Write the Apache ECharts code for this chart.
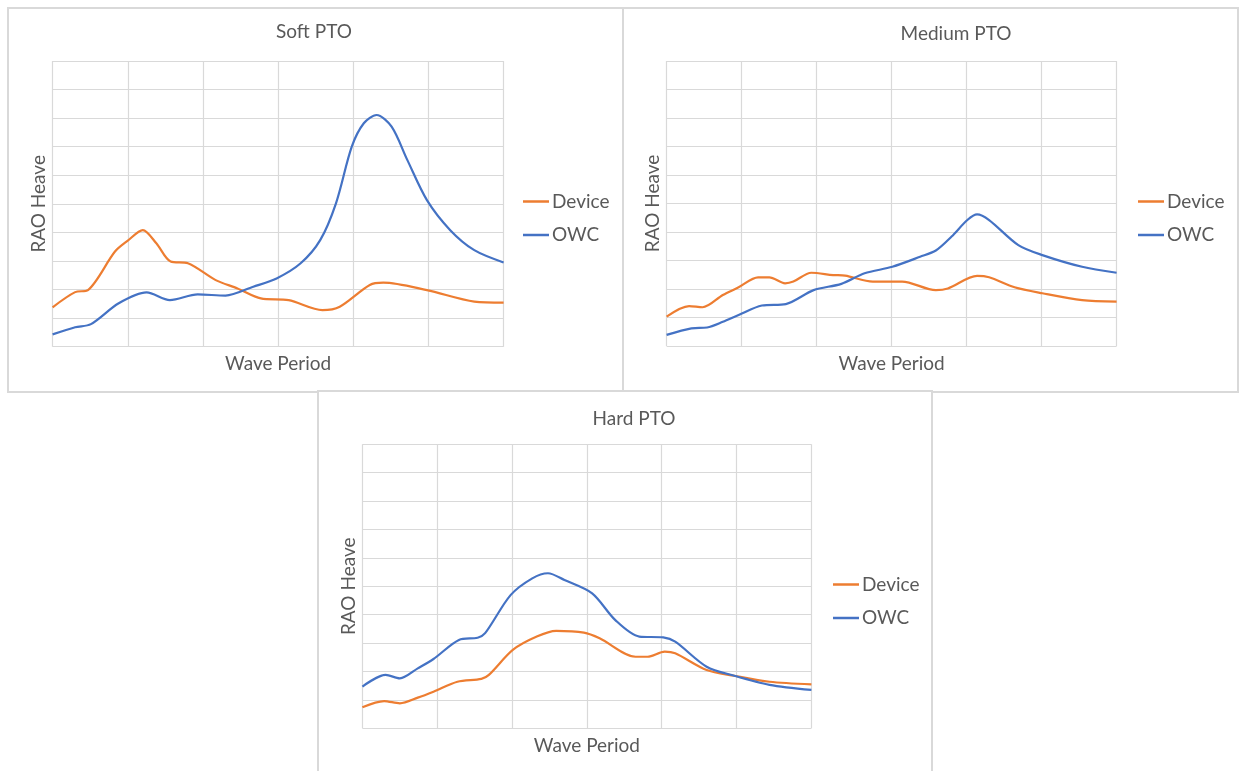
<!DOCTYPE html>
<html>
<head>
<meta charset="utf-8">
<script src="https://cdn.jsdelivr.net/npm/echarts@6/dist/echarts.min.js"></script>
<style>
  body { margin: 0; background: #fff; width: 1239px; height: 771px; overflow: hidden; position: relative; }
  .box { position: absolute; border: 2px solid #d9d9d9; box-sizing: border-box; background: #fff; }
</style>
</head>
<body>
<div id="soft" class="box" style="left:7px;top:7px;width:617px;height:386px"></div>
<div id="medium" class="box" style="left:622px;top:7px;width:617px;height:386px"></div>
<div id="hard" class="box" style="left:317px;top:390px;width:616px;height:390px"></div>
<script>
// values, [wave period (grid units), RAO heave (grid units)]
const softDevice = [[0,1.38],[0.3,1.91],[0.47,1.98],[0.83,3.33],[1.0,3.71],[1.2,4.08],[1.38,3.62],[1.57,2.98],
  [1.8,2.92],[2.17,2.33],[2.46,2.04],[2.77,1.69],[3.14,1.63],[3.59,1.28],[3.82,1.40],[4.22,2.16],[4.4,2.24],
  [4.98,1.98],[5.61,1.58],[6,1.54]];
const softOwc = [[0,0.43],[0.3,0.68],[0.51,0.79],[0.88,1.52],[1.25,1.9],[1.56,1.63],[1.93,1.83],[2.3,1.79],
  [2.67,2.1],[2.98,2.39],[3.3,2.92],[3.56,3.73],[3.77,5.02],[3.98,7.0],[4.14,7.82],[4.31,8.11],[4.51,7.7],
  [4.72,6.53],[4.98,5.13],[5.29,4.08],[5.61,3.38],[6,2.95]];

const mediumDevice = [[0,1.03],[0.3,1.40],[0.48,1.36],[0.75,1.79],[0.96,2.06],[1.22,2.41],[1.37,2.41],[1.58,2.2],
  [1.69,2.26],[1.93,2.57],[2.22,2.49],[2.38,2.47],[2.75,2.26],[3.14,2.26],[3.59,1.96],[3.75,2.02],[4.14,2.46],
  [4.3,2.41],[4.64,2.06],[5.01,1.85],[5.54,1.61],[6,1.56]];
const mediumOwc = [[0,0.39],[0.33,0.62],[0.54,0.65],[0.75,0.85],[0.96,1.09],[1.27,1.42],[1.59,1.47],[1.96,1.96],
  [2.33,2.18],[2.64,2.55],[3.01,2.78],[3.38,3.13],[3.59,3.35],[3.8,3.84],[4.01,4.42],[4.14,4.62],[4.3,4.42],
  [4.69,3.54],[5.01,3.19],[5.54,2.78],[6,2.57]];

const hardDevice = [[0,0.74],[0.29,0.96],[0.5,0.88],[0.74,1.08],[0.95,1.29],[1.27,1.64],[1.59,1.74],[1.69,1.88],
  [2.01,2.76],[2.33,3.23],[2.59,3.43],[2.96,3.37],[3.17,3.17],[3.65,2.52],[3.81,2.52],[4.04,2.7],[4.18,2.64],
  [4.6,2.05],[4.97,1.85],[5.44,1.64],[6,1.55]];
const hardOwc = [[0,1.47],[0.31,1.88],[0.5,1.76],[0.74,2.11],[0.95,2.44],[1.29,3.11],[1.54,3.19],[1.64,3.35],
  [1.98,4.69],[2.27,5.28],[2.48,5.46],[2.7,5.22],[3.07,4.75],[3.38,3.81],[3.7,3.23],[4.02,3.2],[4.18,3.05],
  [4.6,2.17],[4.97,1.85],[5.44,1.53],[6,1.35]];

const seriesNames = ['Device', 'OWC'];
const colors = ['#ED7D31', '#4472C4'];
const textColor = '#595959';
const font = 'Lato, "Open Sans", sans-serif';

function makeChart(id, title, titlePos, grid, device, owc) {
  const chart = echarts.init(document.getElementById(id));
  chart.setOption({
    animation: false,
    color: colors,
    textStyle: { fontFamily: font },
    title: {
      text: title,
      left: titlePos[0],
      top: titlePos[1],
      textAlign: 'center',
      padding: 0,
      textStyle: { color: textColor, fontSize: 19, fontWeight: 'normal', fontFamily: font }
    },
    legend: {
      orient: 'vertical',
      left: 514,
      top: 183,
      icon: 'rect',
      itemWidth: 26,
      itemHeight: 2.5,
      itemGap: 14.5,
      padding: 0,
      data: seriesNames,
      textStyle: { color: textColor, fontSize: 19, fontFamily: font, padding: [0, 0, 0, -2] }
    },
    grid: grid,
    xAxis: {
      type: 'value',
      min: 0,
      max: 6,
      interval: 1,
      name: 'Wave Period',
      nameLocation: 'middle',
      nameGap: 8,
      nameTextStyle: { color: textColor, fontSize: 19, fontFamily: font },
      axisLine: { show: false },
      axisTick: { show: false },
      axisLabel: { show: false },
      splitLine: { show: true, lineStyle: { color: '#d9d9d9', width: 1.2 } }
    },
    yAxis: {
      type: 'value',
      min: 0,
      max: 10,
      interval: 1,
      name: 'RAO Heave',
      nameLocation: 'middle',
      nameGap: 4,
      nameTextStyle: { color: textColor, fontSize: 19, fontFamily: font },
      axisLine: { show: false },
      axisTick: { show: false },
      axisLabel: { show: false },
      splitLine: { show: true, lineStyle: { color: '#d9d9d9', width: 1.2 } }
    },
    series: [
      { name: seriesNames[0], type: 'line', data: device, smooth: 0.3, showSymbol: false,
        lineStyle: { width: 2.2, color: colors[0] } },
      { name: seriesNames[1], type: 'line', data: owc, smooth: 0.3, showSymbol: false,
        lineStyle: { width: 2.2, color: colors[1] } }
    ]
  });
}

makeChart('soft', 'Soft PTO', [305, 13],
  { left: 43.6, top: 52, width: 451, height: 285.7 }, softDevice, softOwc);
makeChart('medium', 'Medium PTO', [332, 15],
  { left: 42.6, top: 52, width: 450, height: 285 }, mediumDevice, mediumOwc);
makeChart('hard', 'Hard PTO', [315, 17],
  { left: 43.4, top: 52.3, width: 449, height: 284 }, hardDevice, hardOwc);
</script>
</body>
</html>
